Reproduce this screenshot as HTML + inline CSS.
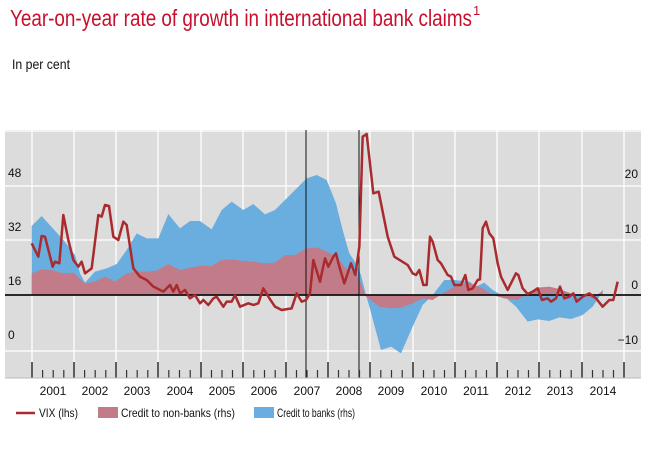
<!DOCTYPE html>
<html><head><meta charset="utf-8"><style>
html,body{margin:0;padding:0;background:#fff;}
svg{display:block;font-family:"Liberation Sans",sans-serif;}
</style></head><body>
<svg width="672" height="457" viewBox="0 0 672 457" xmlns="http://www.w3.org/2000/svg">
<text x="10" y="26" font-size="23" fill="#c8102e" textLength="462" lengthAdjust="spacingAndGlyphs">Year-on-year rate of growth in international bank claims</text>
<text x="473" y="15" font-size="13" fill="#c8102e">1</text>
<text x="12" y="69" font-size="14" fill="#111" textLength="58" lengthAdjust="spacingAndGlyphs">In per cent</text>
<rect x="5" y="130" width="636" height="248" fill="#dcdcdc"/>
<g stroke="#fff" stroke-width="1.3">
<line x1="5" y1="131" x2="641" y2="131"/><line x1="5" y1="186" x2="641" y2="186"/><line x1="5" y1="240" x2="641" y2="240"/><line x1="5" y1="351" x2="641" y2="351"/>
<line x1="32" y1="130" x2="32" y2="362"/><line x1="74" y1="130" x2="74" y2="362"/><line x1="116" y1="130" x2="116" y2="362"/><line x1="158" y1="130" x2="158" y2="362"/><line x1="201" y1="130" x2="201" y2="362"/><line x1="243" y1="130" x2="243" y2="362"/><line x1="286" y1="130" x2="286" y2="362"/><line x1="328" y1="130" x2="328" y2="362"/><line x1="370" y1="130" x2="370" y2="362"/><line x1="413" y1="130" x2="413" y2="362"/><line x1="455" y1="130" x2="455" y2="362"/><line x1="497" y1="130" x2="497" y2="362"/><line x1="539" y1="130" x2="539" y2="362"/><line x1="582" y1="130" x2="582" y2="362"/><line x1="624" y1="130" x2="624" y2="362"/>
</g>
<g transform="translate(0,120) scale(0.33333)">
<polygon fill="#6aaee0" points="95,525 95,318 125,288 190,360 225,405 240,460 255,488 285,455 320,445 350,432 380,390 410,340 440,355 475,355 505,282 540,325 570,303 600,303 635,328 665,270 695,245 730,270 760,252 795,283 825,270 855,240 890,205 920,175 950,165 980,180 1008,250 1028,330 1048,400 1068,430 1083,465 1098,525 1108,560 1143,690 1173,680 1203,700 1238,620 1268,555 1298,525 1333,480 1363,480 1408,485 1428,500 1453,488 1478,510 1513,530 1548,560 1583,605 1613,598 1648,603 1678,592 1713,597 1748,585 1778,560 1798,530 1808,508 1808,525"/>
<polygon fill="#c27b88" points="95,525 95,460 125,448 155,450 190,460 220,458 255,490 285,485 315,470 345,485 380,460 410,455 440,455 470,452 505,432 540,450 575,442 605,437 635,438 665,420 695,418 730,423 760,425 795,430 825,428 855,405 885,405 920,385 950,382 980,395 1008,410 1038,445 1068,460 1083,490 1098,530 1138,560 1173,565 1203,563 1238,550 1268,535 1298,540 1328,520 1363,500 1408,488 1448,505 1478,525 1513,535 1553,540 1583,520 1613,503 1648,500 1678,507 1713,520 1748,525 1778,535 1808,512 1808,525"/>
<line x1="15" y1="525" x2="1923" y2="525" stroke="#111" stroke-width="5"/>
<line x1="918" y1="30" x2="918" y2="775" stroke="#111" stroke-width="3"/>
<line x1="1077" y1="30" x2="1077" y2="775" stroke="#111" stroke-width="3"/>
<polyline fill="none" stroke="#a92b2e" stroke-width="7.5" stroke-linejoin="round" points="95,370 115,410 125,348 135,350 158,440 165,425 178,430 190,285 205,360 220,420 235,440 245,425 255,460 275,445 295,285 305,290 315,255 327,258 340,350 355,360 370,305 380,315 400,445 420,470 440,480 460,500 490,515 510,495 520,515 530,495 540,520 555,510 570,535 585,525 600,550 610,540 625,555 640,535 650,530 670,560 680,545 695,545 705,525 720,560 745,550 760,555 775,550 790,505 805,530 825,560 845,570 875,565 890,520 905,545 918,540 930,520 940,420 960,485 975,415 985,440 1000,410 1008,400 1018,440 1033,490 1053,430 1066,465 1078,380 1088,50 1100,42 1120,220 1136,215 1163,350 1183,410 1223,435 1238,460 1248,465 1258,450 1270,495 1280,495 1290,350 1298,365 1313,420 1323,430 1343,465 1353,470 1363,495 1383,495 1396,465 1405,510 1418,505 1433,480 1440,478 1448,325 1458,305 1468,340 1480,355 1493,430 1503,470 1523,510 1548,460 1555,465 1568,505 1583,522 1598,515 1613,505 1626,540 1643,535 1653,545 1668,535 1680,500 1693,535 1708,530 1720,520 1730,545 1748,530 1768,520 1788,535 1808,560 1828,540 1840,540 1853,485"/>
</g>
<g stroke="#333" stroke-width="1.5">
<line x1="32" y1="362" x2="32" y2="378"/><line x1="74" y1="362" x2="74" y2="378"/><line x1="116" y1="362" x2="116" y2="378"/><line x1="158" y1="362" x2="158" y2="378"/><line x1="201" y1="362" x2="201" y2="378"/><line x1="243" y1="362" x2="243" y2="378"/><line x1="286" y1="362" x2="286" y2="378"/><line x1="328" y1="362" x2="328" y2="378"/><line x1="370" y1="362" x2="370" y2="378"/><line x1="413" y1="362" x2="413" y2="378"/><line x1="455" y1="362" x2="455" y2="378"/><line x1="497" y1="362" x2="497" y2="378"/><line x1="539" y1="362" x2="539" y2="378"/><line x1="582" y1="362" x2="582" y2="378"/><line x1="624" y1="362" x2="624" y2="378"/>
</g>
<path stroke="#333" stroke-width="1.2" d="M42.6 370V378M53.2 370V378M63.8 370V378M84.6 370V378M95.2 370V378M105.8 370V378M126.6 370V378M137.2 370V378M147.8 370V378M168.8 370V378M179.5 370V378M190.2 370V378M211.5 370V378M222 370V378M232.5 370V378M253.8 370V378M264.5 370V378M275.2 370V378M296.5 370V378M307 370V378M317.5 370V378M338.5 370V378M349 370V378M359.5 370V378M380.8 370V378M391.5 370V378M402.2 370V378M423.5 370V378M434 370V378M444.5 370V378M465.5 370V378M476 370V378M486.5 370V378M507.5 370V378M518 370V378M528.5 370V378M549.8 370V378M560.5 370V378M571.2 370V378M592.5 370V378M603 370V378M613.5 370V378"/>
<line x1="5" y1="378" x2="641" y2="378" stroke="#bbb" stroke-width="1"/>
<g font-size="12" fill="#111" text-anchor="middle">
<text x="53" y="395">2001</text><text x="95" y="395">2002</text><text x="137" y="395">2003</text><text x="180" y="395">2004</text><text x="222" y="395">2005</text><text x="264" y="395">2006</text><text x="307" y="395">2007</text><text x="349" y="395">2008</text><text x="391" y="395">2009</text><text x="434" y="395">2010</text><text x="476" y="395">2011</text><text x="518" y="395">2012</text><text x="560" y="395">2013</text><text x="603" y="395">2014</text>
</g>
<g font-size="12" fill="#111">
<text x="8" y="177">48</text><text x="8" y="231">32</text><text x="8" y="285">16</text><text x="8" y="339">0</text>
</g>
<g font-size="12" fill="#111" text-anchor="end">
<text x="638" y="178">20</text><text x="638" y="233">10</text><text x="638" y="289">0</text><text x="638" y="344">−10</text>
</g>
<line x1="16" y1="413" x2="35" y2="413" stroke="#a92b2e" stroke-width="2.5"/>
<text x="39" y="417" font-size="12" fill="#111" textLength="39" lengthAdjust="spacingAndGlyphs">VIX (lhs)</text>
<rect x="98" y="407" width="20" height="11" fill="#c27b88"/>
<text x="121" y="417" font-size="12" fill="#111" textLength="114" lengthAdjust="spacingAndGlyphs">Credit to non-banks (rhs)</text>
<rect x="254" y="407" width="20" height="11" fill="#6aaee0"/>
<text x="277" y="417" font-size="12" fill="#111" textLength="78" lengthAdjust="spacingAndGlyphs">Credit to banks (rhs)</text>
</svg>
</body></html>
